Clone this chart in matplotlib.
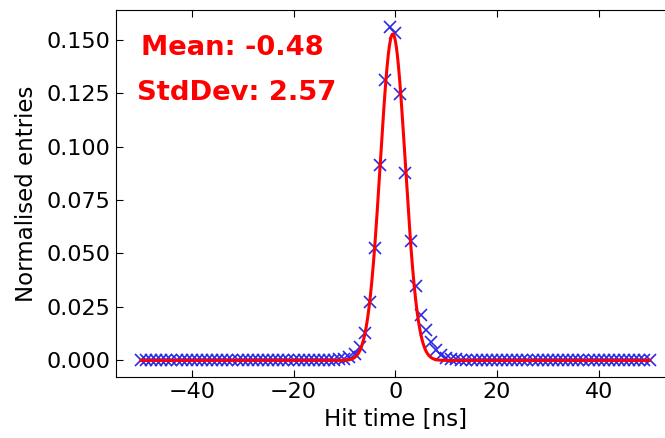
import numpy as np
import matplotlib
matplotlib.use("Agg")
import matplotlib.pyplot as plt

# ---- data ----
hit_time = list(range(-50, 51))  # ns, bin centres

tail = 0.0003
entries_left_tail = [tail] * 39                     # x = -50 .. -12
entries_core = [0.0005, 0.0009, 0.0014, 0.0030, 0.0062, 0.0128, 0.0273,
                0.0527, 0.0912, 0.1311, 0.1560, 0.1532, 0.1245, 0.0874,
                0.0557, 0.0349, 0.0214, 0.0140, 0.0088, 0.0050, 0.0025,
                0.0013, 0.0008, 0.0005]              # x = -11 .. 12
entries_right_tail = [tail] * 38                    # x = 13 .. 50
entries = entries_left_tail + entries_core + entries_right_tail

# Gaussian fit parameters
fit_amplitude = 0.1526
fit_mean = -0.48
fit_sigma = 2.45

mean_text = "Mean: -0.48"
std_text = "StdDev: 2.57"

# ---- figure ----
fig = plt.figure(figsize=(6.65, 4.38), dpi=100)
ax = fig.add_axes([0.1737, 0.139, 0.8413, 0.838])

ax.plot(hit_time, entries, linestyle="none", marker="x", color="#2a2ae6",
        markersize=8.5, markeredgewidth=1.2, zorder=2)

xf = np.linspace(min(hit_time), max(hit_time), 2001)
yf = fit_amplitude * np.exp(-0.5 * ((xf - fit_mean) / fit_sigma) ** 2)
ax.plot(xf, yf, color="red", linewidth=2.2, zorder=3)

ax.set_xlim(-55, 55)
ax.set_xticks([-40, -20, 0, 20, 40])
ax.set_yticks([0.0, 0.025, 0.05, 0.075, 0.1, 0.125, 0.15])
ax.set_yticklabels(["0.000", "0.025", "0.050", "0.075", "0.100", "0.125", "0.150"])

ax.tick_params(direction="in", top=True, right=True, labelsize=16, length=5)
ax.set_xlabel("Hit time [ns]", fontsize=16.5, labelpad=4)
ax.set_ylabel("Normalised entries", fontsize=16.5, labelpad=6)

ax.text(0.045, 0.896, mean_text, transform=ax.transAxes, color="red",
        fontsize=19.7, fontweight="bold", va="center", ha="left",
        family="DejaVu Sans")
ax.text(0.038, 0.774, std_text, transform=ax.transAxes, color="red",
        fontsize=19.7, fontweight="bold", va="center", ha="left",
        family="DejaVu Sans")

fig.savefig("out.png", dpi=100)
